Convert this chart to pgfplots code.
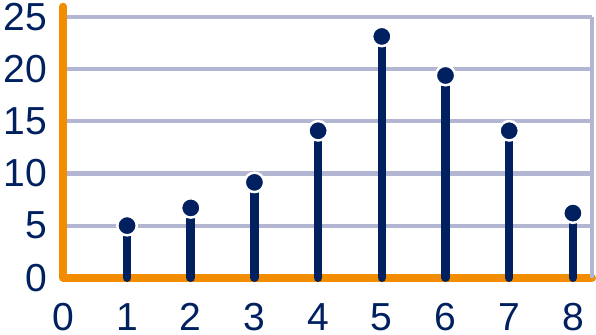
\documentclass[border=0pt]{standalone}
\usepackage{pgfplots}
\pgfplotsset{compat=1.18}
\usepackage{fontspec}
\setmainfont{Liberation Sans}
\definecolor{navy}{RGB}{0,32,96}
\definecolor{orng}{RGB}{242,140,0}
\definecolor{gridc}{RGB}{178,182,210}
\begin{document}
\begin{tikzpicture}
\begin{axis}[
 scale only axis, width=527.7pt, height=270.5pt,
 xmin=0, xmax=8.3, ymin=0, ymax=26,
 axis lines=left,
 axis line style={-, orng, line width=8pt, line cap=round},
 xtick={0,...,8}, ytick={0,5,...,25},
 major tick length=0pt,
 ymajorgrids, grid style={gridc, line width=4pt},
 tick label style={font=\fontsize{39}{40}\selectfont, text=navy},
 xticklabel style={yshift=-22pt},
 yticklabel style={xshift=-13pt},
 /pgf/number format/assume math mode=true,
 clip=false,
]
\draw[gridc, line width=4pt] (axis cs:8.3,0) -- (axis cs:8.3,25);
\addplot[ycomb, navy, line width=8.5pt, line cap=round, mark=*, mark size=9.7pt, mark options={fill=navy, draw=white, line width=2.5pt}] coordinates {
(1,5.0) (2,6.7) (3,9.15) (4,14.1) (5,23.15) (6,19.4) (7,14.1) (8,6.2)
};
\end{axis}
\end{tikzpicture}
\end{document}
